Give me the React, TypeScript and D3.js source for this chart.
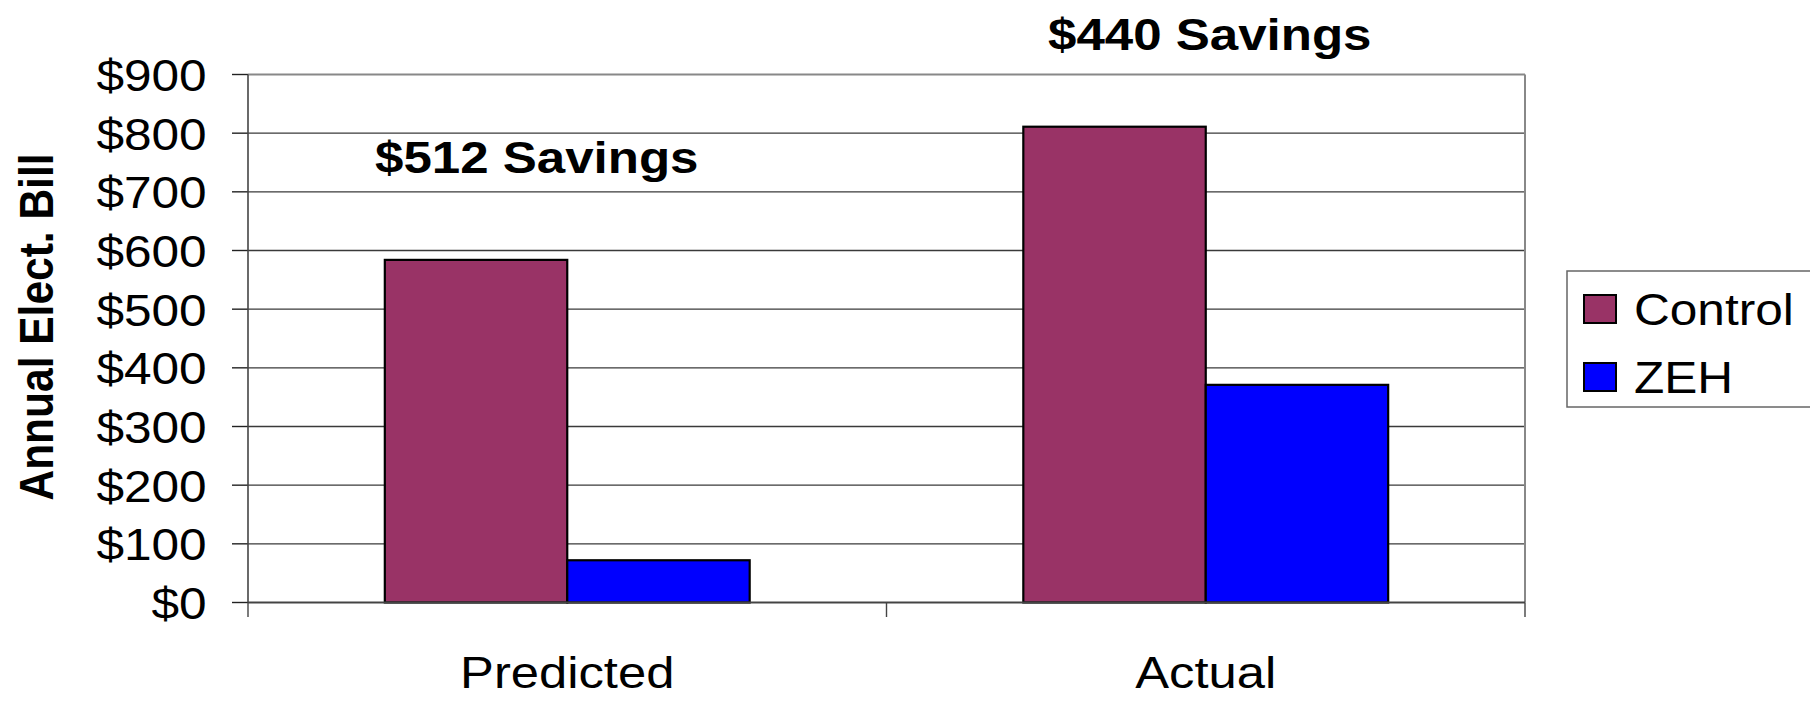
import React from "react";
import * as d3 from "d3";

const categories = ["Predicted", "Actual"];
const seriesNames = ["Control", "ZEH"];
const controlValues = [584, 811];
const zehValues = [72, 371];
const yTicks = [0, 100, 200, 300, 400, 500, 600, 700, 800, 900];
const annotations = ["$512 Savings", "$440 Savings"];
const colors = ["#993366", "#0000FF"];

const W = 1810;
const H = 703;
const FONT = "'Liberation Sans', Arial, Helvetica, sans-serif";
const SX = 1.14;

export default function App() {
  const plotL = 248, plotR = 1525, plotT = 74.5, plotB = 602.5;
  const x = d3.scaleBand<string>().domain(categories).range([plotL, plotR]).paddingInner(0).paddingOuter(0);
  const inner = d3.scaleBand<string>().domain(seriesNames).range([0, x.bandwidth()]).paddingInner(0).paddingOuter(0.75);
  const y = d3.scaleLinear().domain([0, 900]).range([plotB, plotT]);
  const values = [controlValues, zehValues];

  const annPos = [
    { x: 375, y: 172.7 },
    { x: 1048, y: 50 },
  ];

  return (
    <svg width={W} height={H} style={{ position: "absolute", left: 0, top: 0, background: "#fff" }} fontFamily={FONT}>
      <rect x={0} y={0} width={W} height={H} fill="#fff" />
      {/* gridlines */}
      {yTicks.slice(1, -1).map((t) => (
        <line key={"g" + t} x1={plotL} x2={plotR} y1={y(t)} y2={y(t)} stroke="#3a3a3a" strokeWidth={1.4} />
      ))}
      {/* plot border top/right */}
      <line x1={plotL} x2={plotR} y1={y(900)} y2={y(900)} stroke="#888" strokeWidth={2} />
      <line x1={plotR} x2={plotR} y1={y(900)} y2={plotB} stroke="#888" strokeWidth={2} />
      {/* y ticks & labels */}
      {yTicks.map((t) => (
        <g key={"t" + t}>
          <line x1={232} x2={plotL} y1={y(t)} y2={y(t)} stroke="#222" strokeWidth={1.4} />
          <g transform={`translate(206.7, ${y(t) + 16.5}) scale(${SX},1)`}>
            <text textAnchor="end" fontSize={43.5} fill="#000">{"$" + t}</text>
          </g>
        </g>
      ))}
      {/* bars */}
      {categories.map((c, i) => (
        <g key={c}>
          {seriesNames.map((s, j) => {
            const bx = (x(c) as number) + (inner(s) as number);
            const by = y(values[j][i]);
            return (
              <rect key={s} x={bx} y={by} width={inner.bandwidth()} height={plotB - by}
                fill={colors[j]} stroke="#000" strokeWidth={2.2} />
            );
          })}
        </g>
      ))}
      {/* axes */}
      <line x1={plotL} x2={plotL} y1={plotT} y2={plotB} stroke="#444" strokeWidth={1.6} />
      <line x1={plotL} x2={plotR} y1={plotB} y2={plotB} stroke="#444" strokeWidth={2} />
      {[plotL, ...categories.map((c) => (x(c) as number) + x.bandwidth())].map((px, i) => (
        <line key={"ct" + i} x1={px} x2={px} y1={plotB} y2={617} stroke="#444" strokeWidth={1.4} />
      ))}
      {/* category labels */}
      {categories.map((c) => (
        <g key={"cl" + c} transform={`translate(${(x(c) as number) + x.bandwidth() / 2}, 688.3) scale(${SX},1)`}>
          <text textAnchor="middle" fontSize={44.5} fill="#000">{c}</text>
        </g>
      ))}
      {/* y title */}
      <g transform={`translate(53, 327) scale(${SX},1) rotate(-90)`}>
        <text textAnchor="middle" fontSize={42.5} fontWeight="bold" fill="#000">Annual Elect. Bill</text>
      </g>
      {/* annotations */}
      {annotations.map((a, i) => (
        <g key={a} transform={`translate(${annPos[i].x}, ${annPos[i].y}) scale(${SX},1)`}>
          <text textAnchor="start" fontSize={44.8} fontWeight="bold" fill="#000">{a}</text>
        </g>
      ))}
      {/* legend */}
      <rect x={1567} y={271} width={260} height={136} fill="#fff" stroke="#666" strokeWidth={1.5} />
      {seriesNames.map((s, j) => (
        <g key={"lg" + s}>
          <rect x={1584} y={295 + j * 68} width={32} height={28} fill={colors[j]} stroke="#000" strokeWidth={2} />
          <g transform={`translate(1634, ${325 + j * 68.3}) scale(${SX},1)`}>
            <text fontSize={43.5} fill="#000">{s}</text>
          </g>
        </g>
      ))}
    </svg>
  );
}
